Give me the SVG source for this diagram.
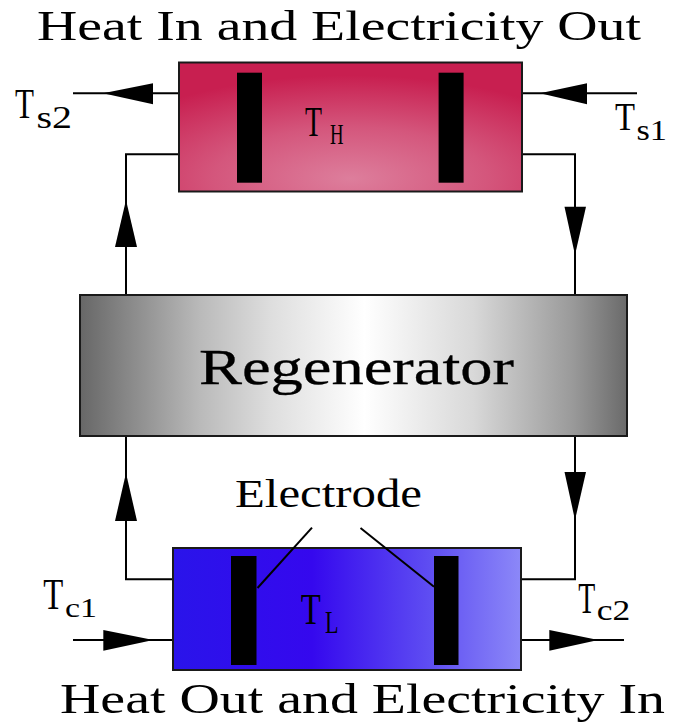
<svg xmlns="http://www.w3.org/2000/svg" width="685" height="723" viewBox="0 0 685 723">
<defs>
<radialGradient id="gHot" cx="0.5" cy="0.9" r="0.8" fx="0.5" fy="0.9">
<stop offset="0" stop-color="#dd7e9c"/>
<stop offset="0.5" stop-color="#d4567c"/>
<stop offset="1" stop-color="#c81f50"/>
</radialGradient>
<linearGradient id="gCold" x1="0" y1="0" x2="1" y2="0">
<stop offset="0" stop-color="#2a14ea"/>
<stop offset="0.4" stop-color="#3508ee"/>
<stop offset="0.75" stop-color="#6050f2"/>
<stop offset="1" stop-color="#8c88f8"/>
</linearGradient>
<linearGradient id="gReg" x1="0" y1="0" x2="1" y2="0">
<stop offset="0" stop-color="#676767"/>
<stop offset="0.08" stop-color="#858585"/>
<stop offset="0.22" stop-color="#bababa"/>
<stop offset="0.35" stop-color="#dedede"/>
<stop offset="0.52" stop-color="#ffffff"/>
<stop offset="0.72" stop-color="#d8d8d8"/>
<stop offset="0.9" stop-color="#9a9a9a"/>
<stop offset="1" stop-color="#6a6a6a"/>
</linearGradient>
</defs>
<style>
.box{stroke:#1a1a1a;stroke-width:2}
.el{fill:#000}
.ln{fill:none;stroke:#000;stroke-width:2}
.ah{fill:#000}
.t{font-family:"Liberation Serif","Times New Roman",serif;fill:#000}
</style>

<text class="t" x="37" y="39.5" font-size="42" textLength="604" lengthAdjust="spacingAndGlyphs">Heat In and Electricity Out</text>
<text class="t" x="60" y="713.3" font-size="42" textLength="605" lengthAdjust="spacingAndGlyphs">Heat Out and Electricity In</text>

<g id="connectors">
<polyline class="ln" points="179,154.3 126,154.3 126,295"/>
<polyline class="ln" points="522,154.3 575,154.3 575,295"/>
<polyline class="ln" points="126,436 126,579.3 173,579.3"/>
<polyline class="ln" points="575,436 575,579.3 521,579.3"/>
<line class="ln" x1="179" y1="93.3" x2="73" y2="93.3"/>
<line class="ln" x1="637" y1="93.3" x2="522" y2="93.3"/>
<line class="ln" x1="73" y1="640" x2="173" y2="640"/>
<line class="ln" x1="521" y1="640" x2="624" y2="640"/>
<polygon class="ah" points="103,93.3 153,83.3 153,104.3"/>
<polygon class="ah" points="540,93.3 587,83.3 587,104.3"/>
<polygon class="ah" points="126,200 115,247 137,247"/>
<polygon class="ah" points="126,473 115,521 137,521"/>
<polygon class="ah" points="564.5,206.7 586,206.7 575,255"/>
<polygon class="ah" points="564.5,472 586,472 575,520"/>
<polygon class="ah" points="103.3,630 103.3,650.7 153.3,640"/>
<polygon class="ah" points="549.3,630 549.3,650.7 598.3,640"/>
</g>

<g id="hot">
<rect class="box" x="179" y="62.5" width="343" height="129" fill="url(#gHot)"/>
<rect class="el" x="237" y="72.7" width="25" height="110"/>
<rect class="el" x="438.6" y="72.7" width="25" height="110"/>
<text class="t"><tspan x="305" y="136" font-size="43" textLength="17" lengthAdjust="spacingAndGlyphs">T</tspan><tspan x="330" y="144" font-size="29" textLength="13.5" lengthAdjust="spacingAndGlyphs">H</tspan></text>
</g>

<g id="regenerator">
<rect class="box" x="80" y="295" width="547" height="141" fill="url(#gReg)"/>
<text class="t" x="199" y="384" font-size="51" textLength="315" lengthAdjust="spacingAndGlyphs" stroke="#000" stroke-width="0.3">Regenerator</text>
</g>

<g id="cold">
<rect class="box" x="173" y="548" width="348" height="122" fill="url(#gCold)"/>
<rect class="el" x="231" y="556" width="25.5" height="109"/>
<rect class="el" x="434" y="556" width="24.5" height="109"/>
<text class="t"><tspan x="300.7" y="624.3" font-size="44" textLength="20" lengthAdjust="spacingAndGlyphs">T</tspan><tspan x="325" y="633.3" font-size="31" textLength="13.5" lengthAdjust="spacingAndGlyphs">L</tspan></text>
</g>

<g id="electrode-label">
<text class="t" x="235" y="507" font-size="41" textLength="187" lengthAdjust="spacingAndGlyphs">Electrode</text>
<line class="ln" x1="312" y1="527.7" x2="257.5" y2="588"/>
<line class="ln" x1="360.5" y1="528" x2="434" y2="586.7"/>
</g>

<g id="ts2">
<text class="t"><tspan x="15" y="118.3" font-size="43" textLength="19" lengthAdjust="spacingAndGlyphs">T</tspan><tspan x="36.5" y="128.3" font-size="32" textLength="35.5" lengthAdjust="spacingAndGlyphs">s2</tspan></text>
</g>
<g id="ts1">
<text class="t"><tspan x="615" y="130" font-size="40" textLength="20" lengthAdjust="spacingAndGlyphs">T</tspan><tspan x="636.5" y="140" font-size="30" textLength="30.5" lengthAdjust="spacingAndGlyphs">s1</tspan></text>
</g>
<g id="tc1">
<text class="t"><tspan x="43.3" y="609.3" font-size="44" textLength="20" lengthAdjust="spacingAndGlyphs">T</tspan><tspan x="65" y="616.7" font-size="28" textLength="32" lengthAdjust="spacingAndGlyphs">c1</tspan></text>
</g>
<g id="tc2">
<text class="t"><tspan x="578.3" y="613.3" font-size="45" textLength="17" lengthAdjust="spacingAndGlyphs">T</tspan><tspan x="596.7" y="620" font-size="30" textLength="33.5" lengthAdjust="spacingAndGlyphs">c2</tspan></text>
</g>
</svg>
